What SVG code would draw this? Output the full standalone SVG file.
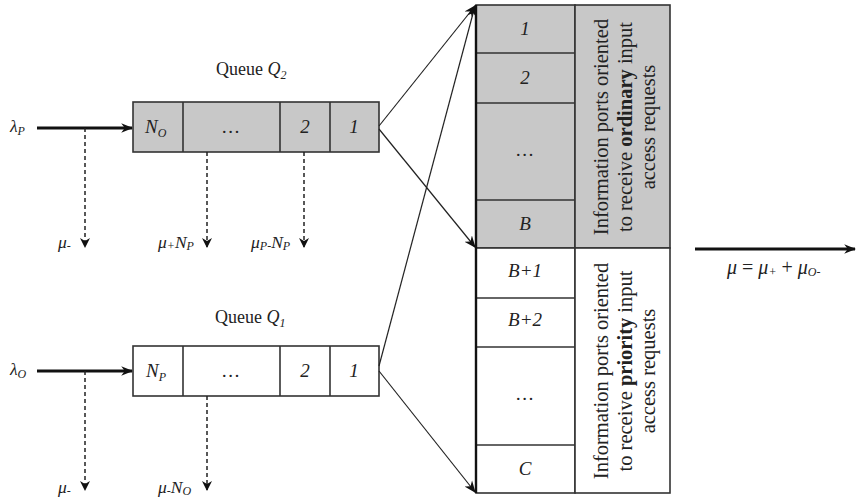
<svg xmlns="http://www.w3.org/2000/svg" width="856" height="503" viewBox="0 0 856 503">
<style>
text{font-family:"Liberation Serif","Times New Roman",serif;fill:#222}
.m{font-style:italic;font-size:19px}
.lbl{font-size:18px}
.sub{font-size:12px}
.ml{font-style:italic;font-size:17.5px}
.out{font-style:italic;font-size:20px}
.cell{stroke:#333;stroke-width:1.6}
.g{fill:#c8c8c8}
.w{fill:#fff}
.thin{stroke:#222;stroke-width:1.2;fill:none}
.thick{stroke:#111;stroke-width:3;fill:none}
.dash{stroke:#222;stroke-width:1.5;stroke-dasharray:4 3;fill:none}
.rot{font-size:20.5px}
</style>
<defs>
<marker id="ah" viewBox="0 0 10 10" refX="9" refY="5" markerWidth="10" markerHeight="10" markerUnits="userSpaceOnUse" orient="auto">
<path d="M0,0 L10,5 L0,10 L3,5 z" fill="#111"/>
</marker>
<marker id="ahs" viewBox="0 0 10 10" refX="9" refY="5" markerWidth="12" markerHeight="12" markerUnits="userSpaceOnUse" orient="auto">
<path d="M0,1 L10,5 L0,9 L3,5 z" fill="#111"/>
</marker>
</defs>

<g id="queue-q2">
<text x="216" y="75" class="lbl">Queue <tspan font-style="italic">Q</tspan><tspan class="sub" font-style="italic" dy="4">2</tspan></text>
<rect x="133" y="102" width="246" height="50" class="cell g"/>
<line x1="183" y1="102" x2="183" y2="152" class="cell"/>
<line x1="280" y1="102" x2="280" y2="152" class="cell"/>
<line x1="330" y1="102" x2="330" y2="152" class="cell"/>
<text x="145" y="133" class="m">N<tspan class="sub" dy="4">O</tspan></text>
<text x="231" y="133" class="m" text-anchor="middle">…</text>
<text x="305" y="133" class="m" text-anchor="middle">2</text>
<text x="354" y="133" class="m" text-anchor="middle">1</text>
</g>

<g id="queue-q1">
<text x="215" y="323" class="lbl">Queue <tspan font-style="italic">Q</tspan><tspan class="sub" font-style="italic" dy="4">1</tspan></text>
<rect x="133" y="346" width="246" height="50" class="cell w"/>
<line x1="183" y1="346" x2="183" y2="396" class="cell"/>
<line x1="280" y1="346" x2="280" y2="396" class="cell"/>
<line x1="330" y1="346" x2="330" y2="396" class="cell"/>
<text x="146" y="377" class="m">N<tspan class="sub" dy="4">P</tspan></text>
<text x="231" y="377" class="m" text-anchor="middle">…</text>
<text x="305" y="377" class="m" text-anchor="middle">2</text>
<text x="354" y="377" class="m" text-anchor="middle">1</text>
</g>

<g id="ordinary-ports">
<rect x="476" y="5" width="99" height="243" class="cell g"/>
<line x1="476" y1="53" x2="575" y2="53" class="cell"/>
<line x1="476" y1="103" x2="575" y2="103" class="cell"/>
<line x1="476" y1="200" x2="575" y2="200" class="cell"/>
<rect x="575" y="5" width="95" height="243" class="cell g"/>
<text x="525" y="35" class="m" text-anchor="middle">1</text>
<text x="525" y="84" class="m" text-anchor="middle">2</text>
<text x="525" y="156" class="m" text-anchor="middle">…</text>
<text x="525" y="230" class="m" text-anchor="middle">B</text>
<g transform="translate(0,127) rotate(-90)" class="rot" text-anchor="middle">
<text x="0" y="608">Information ports oriented</text>
<text x="0" y="632">to receive <tspan font-weight="bold">ordinary</tspan> input</text>
<text x="0" y="655">access requests</text>
</g>
</g>

<g id="priority-ports">
<rect x="476" y="248" width="99" height="245" class="cell w"/>
<line x1="476" y1="298" x2="575" y2="298" class="cell"/>
<line x1="476" y1="347" x2="575" y2="347" class="cell"/>
<line x1="476" y1="445" x2="575" y2="445" class="cell"/>
<rect x="575" y="248" width="95" height="245" class="cell w"/>
<text x="525" y="277" class="m" text-anchor="middle">B+1</text>
<text x="525" y="326" class="m" text-anchor="middle">B+2</text>
<text x="525" y="400" class="m" text-anchor="middle">…</text>
<text x="525" y="475" class="m" text-anchor="middle">C</text>
<g transform="translate(0,371) rotate(-90)" class="rot" text-anchor="middle">
<text x="0" y="608">Information ports oriented</text>
<text x="0" y="632">to receive <tspan font-weight="bold">priority</tspan> input</text>
<text x="0" y="655">access requests</text>
</g>
<line x1="476" y1="5" x2="476" y2="493" stroke="#111" stroke-width="2.4"/>
</g>

<g id="connectors">
<line x1="37" y1="128" x2="132" y2="128" class="thick" marker-end="url(#ahs)"/>
<line x1="37" y1="371" x2="132" y2="371" class="thick" marker-end="url(#ahs)"/>
<line x1="85" y1="128" x2="85" y2="247" class="dash" marker-end="url(#ah)"/>
<line x1="207" y1="152" x2="207" y2="247" class="dash" marker-end="url(#ah)"/>
<line x1="304" y1="152" x2="304" y2="247" class="dash" marker-end="url(#ah)"/>
<line x1="85" y1="371" x2="85" y2="490" class="dash" marker-end="url(#ah)"/>
<line x1="207" y1="396" x2="207" y2="490" class="dash" marker-end="url(#ah)"/>
<line x1="379" y1="126" x2="475" y2="6" class="thin" marker-end="url(#ahs)"/>
<line x1="379" y1="129" x2="475" y2="247" class="thin" marker-end="url(#ahs)"/>
<line x1="379" y1="366" x2="475" y2="6" class="thin" marker-end="url(#ahs)"/>
<line x1="379" y1="371" x2="475" y2="492" class="thin" marker-end="url(#ahs)"/>
<line x1="695" y1="249" x2="855" y2="249" class="thick" marker-end="url(#ahs)"/>
</g>

<g id="labels">
<text x="10" y="132" class="ml">λ<tspan class="sub" dy="3">P</tspan></text>
<text x="10" y="375" class="ml">λ<tspan class="sub" dy="3">O</tspan></text>
<text x="58" y="248" class="ml">μ<tspan class="sub" dy="2">-</tspan></text>
<text x="158" y="248" class="ml">μ<tspan class="sub" dy="2">+</tspan><tspan dy="-2">N</tspan><tspan class="sub" dy="2">P</tspan></text>
<text x="251" y="248" class="ml">μ<tspan class="sub" dy="2">P-</tspan><tspan dy="-2">N</tspan><tspan class="sub" dy="2">P</tspan></text>
<text x="58" y="493" class="ml">μ<tspan class="sub" dy="2">-</tspan></text>
<text x="158" y="493" class="ml">μ<tspan class="sub" dy="2">-</tspan><tspan dy="-2">N</tspan><tspan class="sub" dy="2">O</tspan></text>
<text x="727" y="274" class="out">μ <tspan font-style="normal">= </tspan>μ<tspan class="sub" dy="2">+</tspan><tspan dy="-2" font-style="normal"> + </tspan>μ<tspan class="sub" dy="2">O-</tspan></text>
</g>
</svg>
